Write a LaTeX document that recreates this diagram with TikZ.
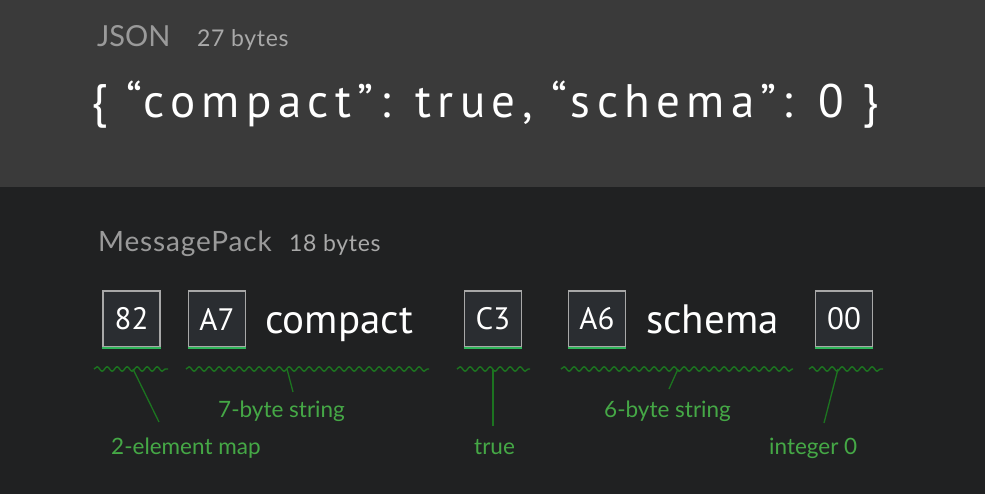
\documentclass[tikz,border=0pt]{standalone}
\usepackage{fontspec}
\setmainfont{Lato}
\newfontfamily\codefont{PT Sans}
\newfontfamily\jsonfont[LetterSpace=13.5]{PT Sans}
\newfontfamily\headfont[LetterSpace=3]{Lato}
\usetikzlibrary{decorations.pathmorphing}

\definecolor{topPanel}{HTML}{3A3A3A}
\definecolor{bottomPanel}{HTML}{202122}
\definecolor{headGray}{HTML}{9A9A9A}
\definecolor{boxFill}{HTML}{2A2D31}
\definecolor{boxEdge}{HTML}{A8A8A8}
\definecolor{byteGreen}{HTML}{2FB55A}
\definecolor{waveGreen}{HTML}{1C7420}
\definecolor{labelGreen}{HTML}{45A846}

\newcommand{\picWidth}{985}
\newcommand{\picHeight}{494}
\newcommand{\panelSplit}{187}
\newcommand{\waveY}{369}

\begin{document}
\begin{tikzpicture}[x=1pt,y=-1pt,
  head/.style={anchor=base west,inner sep=0pt,text=headGray,font=\headfont\fontsize{29}{32}\selectfont},
  headsize/.style={anchor=base west,inner sep=0pt,text=headGray!85,font=\headfont\fontsize{23}{26}\selectfont},
  bytebox/.style={draw=boxEdge,line width=1.3pt,fill=boxFill,minimum width=57pt,minimum height=56pt,
    inner sep=0pt,text=white,font=\codefont\fontsize{31}{34}\selectfont},
  keytext/.style={anchor=base west,inner sep=0pt,text=white,font=\codefont\fontsize{41}{44}\selectfont},
  wave/.style={draw=waveGreen,line width=1.4pt,decorate,decoration={snake,segment length=10pt,amplitude=2.2pt}},
  leader/.style={draw=waveGreen,line width=1.3pt},
  note/.style={inner sep=0pt,text=labelGreen,font=\fontsize{22.5}{24}\selectfont}]
  \useasboundingbox (0,0) rectangle (\picWidth,\picHeight);
  % panels
  \fill[topPanel] (0,0) rectangle (\picWidth,\panelSplit);
  \fill[bottomPanel] (0,\panelSplit) rectangle (\picWidth,\picHeight);

  % JSON header
  \node[head,font=\fontsize{29}{32}\selectfont] (jsonhead) at (97,47) {JSON};
  \node[headsize] (jsonsize) at (197,47) {27 bytes};
  \node[anchor=base west,inner sep=0pt,text=white,font=\jsonfont\fontsize{47}{52}\selectfont]
    (jsonline) at (91,118) {\{ “compact”: true, “schema”: 0 \}};

  % MessagePack header
  \node[head,font=\headfont\fontsize{28}{30}\selectfont] (mphead) at (98,252) {MessagePack};
  \node[headsize] (mpsize) at (289,252) {18 bytes};

  % bytes
  \node[bytebox] (b82) at (131.5,319) {82};
  \node[bytebox] (bA7) at (217,319) {A7};
  \node[keytext] (kcompact) at (265,333) {compact};
  \node[bytebox] (bC3) at (493,319) {C3};
  \node[bytebox] (bA6) at (597,319) {A6};
  \node[keytext] (kschema) at (646,333) {schema};
  \node[bytebox] (b00) at (844,319) {00};
  \foreach \b in {b82,bA7,bC3,bA6,b00}
    \draw[byteGreen,line width=2.2pt] (\b.south west) -- (\b.south east);

  % squiggles
  \draw[wave] (94,\waveY) -- (168,\waveY);
  \draw[wave] (186,\waveY) -- (429,\waveY);
  \draw[wave] (457,\waveY) -- (530,\waveY);
  \draw[wave] (561,\waveY) -- (793,\waveY);
  \draw[wave] (809,\waveY) -- (883,\waveY);
  \coordinate (w82) at (133,\waveY);
  \coordinate (wA7) at (287,\waveY);
  \coordinate (wC3) at (493,\waveY);
  \coordinate (wA6) at (678,\waveY);
  \coordinate (w00) at (838,\waveY);

  % labels
  \node[note,anchor=base west] (lmap) at (111,454) {2-element map};
  \node[note,anchor=base west] (lstr7) at (218,417) {7-byte string};
  \node[note,anchor=base west] (ltrue) at (474,454) {true};
  \node[note,anchor=base west] (lstr6) at (604,417) {6-byte string};
  \node[note,anchor=base west] (lint) at (769,454) {integer 0};
  \coordinate (e82) at (159,422);
  \coordinate (eA7) at (293,392);
  \coordinate (eC3) at (493,426);
  \coordinate (eA6) at (669,389);
  \coordinate (e00) at (824,423);
  \draw[leader] (w82) -- (e82);
  \draw[leader] (wA7) -- (eA7);
  \draw[leader] (wC3) -- (eC3);
  \draw[leader] (wA6) -- (eA6);
  \draw[leader] (w00) -- (e00);
\end{tikzpicture}
\end{document}
